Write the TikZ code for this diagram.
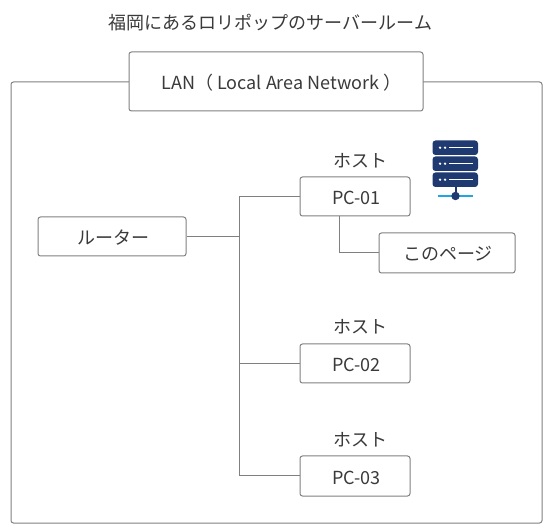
\documentclass[tikz,border=0pt]{standalone}
\usepackage{fontspec}
\setmainfont{Noto Sans CJK JP}
\definecolor{ink}{HTML}{3A3A3A}
\definecolor{edge}{HTML}{808080}
\definecolor{navy}{HTML}{1F3A70}
\definecolor{sky}{HTML}{1EA7E1}
\tikzset{
  box/.style={draw=edge,line width=1pt,rounded corners=2.5pt,fill=white,inner sep=0pt,text=ink,text height=16pt,text depth=0pt,font=\fontsize{18}{20}\selectfont},
  caption/.style={text=ink,inner sep=0pt,font=\fontsize{18}{20}\selectfont},
  link/.style={draw=edge,line width=1pt},
  srv/.style={fill=navy,rounded corners=3pt},
  srvline/.style={draw=white,line width=1.3pt}
}
\begin{document}
\begin{tikzpicture}[x=1pt,y=-1pt]
\useasboundingbox (0,0) rectangle (550,532);
\fill[white] (0,0) rectangle (550,532);
\draw[link,rounded corners=2.5pt] (11,82) rectangle (542,523);
\node[caption] (title) at (270.5,22.5) {福岡にあるロリポップのサーバールーム};
\node[box,minimum width=294pt,minimum height=59pt] (lan) at (276,81.5) {\hspace*{11pt}LAN（ Local Area Network ）};
\node[box,minimum width=148pt,minimum height=39pt] (router) at (112,236.5) {\hspace*{2pt}ルーター};
\node[box,minimum width=110pt,minimum height=39pt] (pc1) at (355,196.5) {\hspace*{3pt}PC-01};
\node[box,minimum width=136pt,minimum height=40pt] (page) at (447,253) {\hspace*{2pt}このページ};
\node[box,minimum width=110pt,minimum height=39pt] (pc2) at (355,363.5) {\hspace*{3pt}PC-02};
\node[box,minimum width=110pt,minimum height=40pt] (pc3) at (355,476) {\hspace*{3pt}PC-03};
\node[caption] (h1) at (360,160.5) {ホスト};
\node[caption] (h2) at (360,326.5) {ホスト};
\node[caption] (h3) at (360,439.5) {ホスト};
\coordinate (trunk) at (239.5,236.5);
\coordinate (drop) at (339.5,216);
\draw[link] (router.east) -- (trunk);
\draw[link] (pc1.west) -| (trunk);
\draw[link] (pc2.west) -| (trunk);
\draw[link] (pc3.west) -| (trunk);
\draw[link] (drop) |- (page.west);
% server icon
\foreach \t in {140.5,156.5,172.5}{
  \fill[srv] (432.5,\t) rectangle (478,\t+14.5);
  \fill[white] (440,\t+7.2) circle (1.3);
  \fill[white] (445,\t+7.2) circle (1.3);
  \draw[srvline] (449,\t+7.2) -- (473,\t+7.2);
}
\draw[sky,line width=2pt] (438,196) -- (473,196);
\draw[navy,line width=2pt] (455.5,187) -- (455.5,196);
\fill[navy] (455.5,196) circle (4.2);
\end{tikzpicture}
\end{document}
